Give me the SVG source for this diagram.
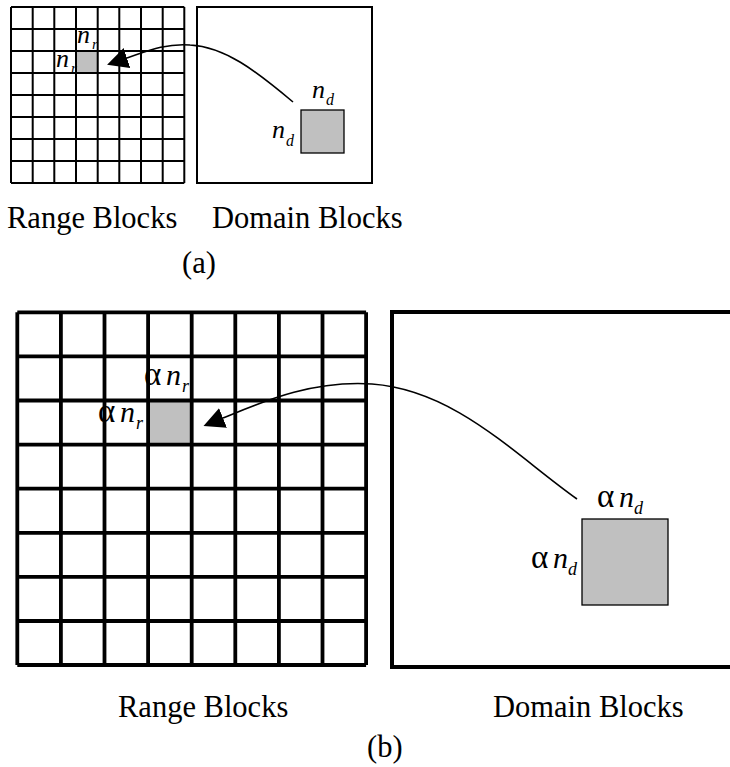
<svg xmlns="http://www.w3.org/2000/svg" width="730" height="767" viewBox="0 0 730 767">
  <style>
    .bg { fill: #ffffff; }
    .grid-a { stroke: #000; stroke-width: 2; fill: none; }
    .grid-b { stroke: #000; stroke-width: 3.8; fill: none; }
    .box-a { stroke: #000; stroke-width: 2; fill: none; }
    .box-b { stroke: #000; stroke-width: 4; fill: none; }
    .cell { fill: #c0c0c0; stroke: none; }
    .dblock { fill: #c0c0c0; stroke: #000; stroke-width: 1.3; }
    .curve { stroke: #000; stroke-width: 1.6; fill: none; }
    .cap { font-family: "Liberation Serif", "Times New Roman", serif; font-size: 30.5px; fill: #000; }
    .var { font-family: "Liberation Serif", "Times New Roman", serif; font-style: italic; fill: #000; }
    .greek { font-family: "Liberation Serif", "Times New Roman", serif; fill: #000; }
  </style>
  <defs>
    <marker id="head" markerUnits="userSpaceOnUse" markerWidth="21" markerHeight="21" refX="0" refY="10" orient="auto" viewBox="0 0 20 20">
      <path d="M0,0 L20,10 L0,20 z" fill="#000"/>
    </marker>
  </defs>

  <rect class="bg" x="0" y="0" width="730" height="767"/>

  <!-- (a) range blocks: 8x8 grid -->
  <g id="range-a">
    <rect class="cell" x="76.9" y="51" width="21.7" height="22"/>
    <path class="grid-a" d="M11,7 V183 M32.7,7 V183 M54.3,7 V183 M76,7 V183 M97.7,7 V183 M119.3,7 V183 M141,7 V183 M162.7,7 V183 M184.3,7 V183
                            M11,7 H184.3 M11,29 H184.3 M11,51 H184.3 M11,73 H184.3 M11,95 H184.3 M11,117 H184.3 M11,139 H184.3 M11,161 H184.3 M11,183 H184.3"/>
    <text class="var" x="77" y="43" font-size="26">n</text>
    <text class="var" x="92" y="49" font-size="15">r</text>
    <text class="var" x="56" y="67" font-size="26">n</text>
    <text class="var" x="71" y="73" font-size="15">r</text>
  </g>

  <!-- (a) domain blocks -->
  <g id="domain-a">
    <rect class="box-a" x="197" y="7" width="175" height="176"/>
    <rect class="dblock" x="301" y="110" width="43" height="43"/>
    <text class="var" x="312" y="98" font-size="26">n</text>
    <text class="var" x="326" y="105" font-size="16">d</text>
    <text class="var" x="272" y="138" font-size="26">n</text>
    <text class="var" x="286" y="146" font-size="16">d</text>
  </g>

  <!-- (b) range blocks: 8x8 grid -->
  <g id="range-b">
    <rect class="cell" x="148.3" y="400.6" width="43.6" height="44.1"/>
    <path class="grid-b" d="M17.3,312.3 V665 M60.9,312.3 V665 M104.5,312.3 V665 M148.1,312.3 V665 M191.7,312.3 V665 M235.3,312.3 V665 M278.9,312.3 V665 M322.5,312.3 V665 M366.1,312.3 V665
                            M17.3,312.3 H366.1 M17.3,356.4 H366.1 M17.3,400.5 H366.1 M17.3,444.6 H366.1 M17.3,488.7 H366.1 M17.3,532.8 H366.1 M17.3,576.9 H366.1 M17.3,621 H366.1 M17.3,665 H366.1"/>
    <text class="greek" x="144" y="385" font-size="33">α</text>
    <text class="var" x="166" y="385" font-size="30">n</text>
    <text class="var" x="182" y="392" font-size="18">r</text>
    <text class="greek" x="98" y="422" font-size="33">α</text>
    <text class="var" x="120" y="422" font-size="30">n</text>
    <text class="var" x="136" y="429" font-size="18">r</text>
  </g>

  <!-- (b) domain blocks -->
  <g id="domain-b">
    <path class="box-b" d="M734,312 H392 V667 H734"/>
    <rect class="dblock" x="582" y="519" width="86" height="86"/>
    <text class="greek" x="597" y="507" font-size="33">α</text>
    <text class="var" x="619" y="507" font-size="30">n</text>
    <text class="var" x="634" y="514" font-size="18">d</text>
    <text class="greek" x="531" y="568" font-size="33">α</text>
    <text class="var" x="553" y="568" font-size="30">n</text>
    <text class="var" x="568" y="575" font-size="18">d</text>
  </g>

  <!-- mapping connectors: domain block to range block -->
  <g id="connectors">
    <path class="curve" marker-end="url(#head)" d="M293,102 C255,70 225,47 190,45 C165,43 145,52 127,58"/>
    <path class="curve" marker-end="url(#head)" d="M577,499 C515,455 455,390 372,384 C310,380 260,403 223,418"/>
  </g>

  <!-- captions -->
  <g id="captions">
    <text class="cap" x="7" y="228">Range Blocks</text>
    <text class="cap" x="212" y="228">Domain Blocks</text>
    <text class="cap" x="182" y="273">(a)</text>
    <text class="cap" x="118" y="717">Range Blocks</text>
    <text class="cap" x="493" y="717">Domain Blocks</text>
    <text class="cap" x="367" y="757">(b)</text>
  </g>
</svg>
